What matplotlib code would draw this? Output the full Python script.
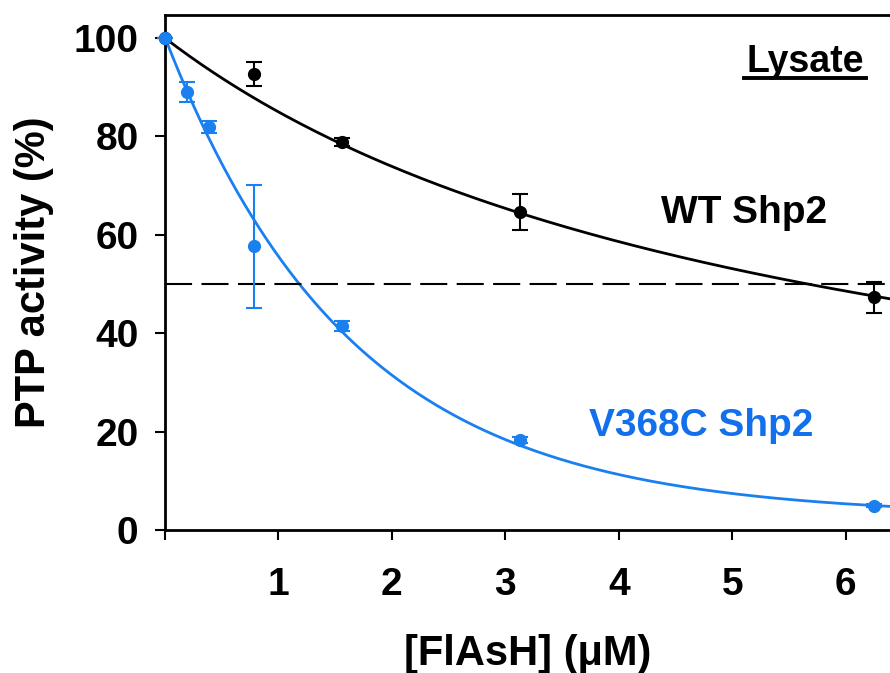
import numpy as np
import matplotlib
matplotlib.use("Agg")
import matplotlib.pyplot as plt

plt.rcParams["font.family"] = ["Liberation Sans", "DejaVu Sans"]
plt.rcParams["font.weight"] = "bold"

# data
wt_x = [0.0, 0.78, 1.5625, 3.125, 6.25]
wt_y = [100.0, 92.7, 78.9, 64.6, 47.3]
wt_err = [0.0, 2.4, 0.8, 3.7, 3.1]

v368c_x = [0.0, 0.195, 0.39, 0.78, 1.5625, 3.125, 6.25]
v368c_y = [100.0, 89.0, 81.9, 57.7, 41.4, 18.3, 4.9]
v368c_err = [0.0, 2.0, 1.2, 12.5, 1.0, 0.6, 0.3]

xticks = [1, 2, 3, 4, 5, 6]
yticks = [0, 20, 40, 60, 80, 100]

BLUE = "#1a80f0"
BLUE_TXT = "#1270ec"


def fit_wt(x, y):
    # 100 / (1 + x / IC50), least squares on the linearised form
    x = np.asarray(x)[1:]
    z = 100.0 / np.asarray(y)[1:] - 1.0
    return 1.0 / (np.sum(x * z) / np.sum(x * x))


def fit_exp(x, y):
    # a * exp(-k x) + c, search over the offset c
    x = np.asarray(x)
    y = np.asarray(y)
    best = None
    for c in np.linspace(0, 4.5, 451):
        k, loga = np.polyfit(x, np.log(y - c), 1)
        res = np.sum((np.exp(loga) * np.exp(k * x) + c - y) ** 2)
        if best is None or res < best[0]:
            best = (res, np.exp(loga), k, c)
    return best[1:]


ic50 = fit_wt(wt_x, wt_y)
a, k, c = fit_exp(v368c_x, v368c_y)

fig = plt.figure(figsize=(8.9, 6.73), dpi=100)
ax = fig.add_axes([0.1854, 0.2125, 0.8146, 0.7652])

xx = np.linspace(0, 6.39, 300)
ax.plot(xx, 100.0 / (1 + xx / ic50), color="black", lw=2, clip_on=False)
ax.plot(xx, a * np.exp(k * xx) + c, color=BLUE, lw=2, clip_on=False)
ax.axhline(50, color="black", lw=1.5, dashes=(13, 4.5))

ax.errorbar(wt_x, wt_y, yerr=wt_err, fmt="o", color="black", ms=8.5,
            capsize=5.5, elinewidth=1.5, capthick=1.5, clip_on=False, zorder=3)
ax.errorbar(v368c_x, v368c_y, yerr=v368c_err, fmt="o", color=BLUE, ms=8.5,
            capsize=5.5, elinewidth=1.5, capthick=1.5, clip_on=False, zorder=4)

ax.set_xlim(0, 6.39)
ax.set_ylim(0, 104.7)
ax.set_xticks([0] + xticks)
ax.set_xticklabels([""] + [str(t) for t in xticks])
ax.set_yticks(yticks)
ax.tick_params(axis="both", direction="out", length=7, width=1.5,
               labelsize=28)
ax.tick_params(axis="x", pad=20)
ax.tick_params(axis="y", pad=12)
for s in ["left", "bottom", "top"]:
    ax.spines[s].set_linewidth(2)
ax.spines["right"].set_visible(False)

ax.set_xlabel("[FlAsH] (μM)", fontsize=30, fontweight="bold", labelpad=22)
ax.set_ylabel("PTP activity (%)", fontsize=30, fontweight="bold", labelpad=14)

ax.text(5.64, 93.1, "Lysate", fontsize=27, fontweight="bold", ha="center",
        va="baseline")
ax.plot([5.10, 6.18], [91.8, 91.8], color="black", lw=2.8)
ax.text(5.10, 62.4, "WT Shp2", fontsize=28, fontweight="bold", ha="center",
        va="baseline")
ax.text(4.73, 19.1, "V368C Shp2", fontsize=28, fontweight="bold",
        ha="center", va="baseline", color=BLUE_TXT)

fig.savefig("out.png", dpi=100)
